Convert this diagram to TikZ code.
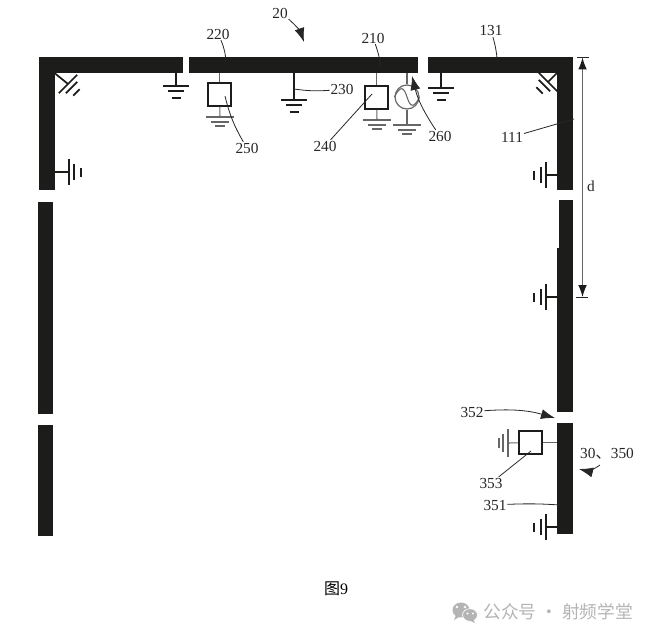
\documentclass[tikz,border=0pt]{standalone}
\usepackage{fontspec}
\setmainfont{Liberation Serif}
\newfontfamily\cjkfont{Noto Sans CJK SC}
\usetikzlibrary{arrows.meta}
\def\px{0.75pt}
\definecolor{barblack}{HTML}{1C1C1A}
\definecolor{markgray}{HTML}{B4B4B4}
\tikzset{
    gnd thick/.pic={\draw[stem] (-13,0) -- (13,0) (-8,5) -- (8,5) (-4.5,12) -- (4.5,12);},
    gnd thin/.pic={\draw[thinstem] (-14,0) -- (14,0) (-9,5) -- (9,5) (-5,9) -- (5,9);},
    stem/.style={draw=barblack, line width=1.3pt},
    thinstem/.style={draw=black!60, line width=0.8pt},
    bar/.style={fill=barblack, inner sep=0pt, outer sep=0pt},
    loadbox/.style={rectangle, draw=barblack, line width=1.25pt, inner sep=0pt, minimum size=23*\px},
    lab/.style={inner sep=0.5pt, font=\fontsize{11.5}{11.5}\selectfont, text=black!85},
    leader/.style={draw=black!85, line width=0.6pt},
    callout/.style={leader, -{Latex[length=10.5pt,width=7.5pt]}}
}
\begin{document}
\begin{tikzpicture}[x=\px, y=-\px]
    \useasboundingbox (0,0) rectangle (655,638);

    % Left side
    \node (barLeftA) [bar, minimum width=16*\px, minimum height=133*\px] at (46.5,123.5) {};
    \node (barLeftB) [bar, minimum width=15*\px, minimum height=212*\px] at (45.5,308) {};
    \node (barLeftC) [bar, minimum width=15*\px, minimum height=111*\px] at (45.5,480.5) {};

    % Top side
    \node (barTopA) [bar, minimum width=133*\px, minimum height=16*\px] at (116.5,65) {};
    \node (bar220) [bar, minimum width=229*\px, minimum height=16*\px] at (303.5,65) {};
    \node (bar131) [bar, minimum width=133*\px, minimum height=16*\px] at (494,65) {};

    % Right side
    \node (bar111) [bar, minimum width=16*\px, minimum height=133*\px] at (565,123.5) {};
    \node (barRightA) [bar, minimum width=14*\px, minimum height=50*\px] at (566,225) {};
    \node (barRightB) [bar, minimum width=16*\px, minimum height=164*\px] at (565,330) {};
    \node (bar351) [bar, minimum width=16*\px, minimum height=111*\px] at (565,478.5) {};

    % Loads and source on the top bar
    \node (load250) [loadbox] at (219.5,94.5) {};
    \node (load240) [loadbox] at (376.5,97.5) {};
    \node (source260) [circle, draw=black!60, line width=0.9pt, inner sep=0pt, minimum size=24*\px] at (407,97) {};
    \node (load353) [loadbox] at (530.5,442.5) {};
    \draw[thinstem] (source260.west) .. controls (401,84) and (404,88) .. (source260.center) .. controls (410,106) and (413,110) .. (source260.east);

    % Ground points
    \coordinate (gndTop) at (176,86);
    \coordinate (gnd230) at (294,100);
    \coordinate (gndTopR) at (441,88);
    \coordinate (gndLeft) at (69,172);
    \coordinate (gndRightA) at (546,175);
    \coordinate (gndRightB) at (546,297);
    \coordinate (gndRightC) at (546,527);
    \coordinate (gndCornerL) at (68,84);
    \coordinate (gndCornerR) at (548,82);
    \coordinate (gnd250) at (220,117);
    \coordinate (gnd240) at (377,120);
    \coordinate (gnd260) at (407,125);
    \coordinate (gnd353) at (508,443);

    % Stems
    \draw[stem] (barTopA.south -| gndTop) -- (gndTop);
    \draw[stem] (bar220.south -| gnd230) -- (gnd230);
    \draw[stem] (bar131.south -| gndTopR) -- (gndTopR);
    \draw[stem] (barLeftA.east |- gndLeft) -- (gndLeft);
    \draw[stem] (bar111.west |- gndRightA) -- (gndRightA);
    \draw[stem] (barRightB.west |- gndRightB) -- (gndRightB);
    \draw[stem] (bar351.west |- gndRightC) -- (gndRightC);
    \draw[stem] (barTopA.south -| barLeftA.east) -- (gndCornerL);
    \draw[stem] (bar131.south -| bar111.west) -- (gndCornerR);
    \draw[thinstem] (bar220.south -| load250) -- (load250);
    \draw[thinstem] (load250) -- (gnd250);
    \draw[thinstem] (bar220.south -| load240) -- (load240);
    \draw[thinstem] (load240) -- (gnd240);
    \draw[thinstem] (bar220.south -| source260) -- (source260);
    \draw[thinstem] (source260) -- (gnd260);
    \draw[thinstem] (load353) -- (bar351.west |- load353);
    \draw[thinstem] (load353) -- (gnd353);

    % Ground symbols
    \pic at (gndTop) {gnd thick};
    \pic at (gnd230) {gnd thick};
    \pic at (gndTopR) {gnd thick};
    \pic[rotate=90] at (gndLeft) {gnd thick};
    \pic[rotate=-90] at (gndRightA) {gnd thick};
    \pic[rotate=-90] at (gndRightB) {gnd thick};
    \pic[rotate=-90] at (gndRightC) {gnd thick};
    \pic[rotate=45] at (gndCornerL) {gnd thick};
    \pic[rotate=-45] at (gndCornerR) {gnd thick};
    \pic at (gnd250) {gnd thin};
    \pic at (gnd240) {gnd thin};
    \pic at (gnd260) {gnd thin};
    \pic[rotate=-90] at (gnd353) {gnd thin};

    % Reference numerals
    \node (lab20) [lab] at (280,13) {20};
    \node (lab220) [lab] at (218,34) {220};
    \node (lab210) [lab] at (373,38) {210};
    \node (lab230) [lab] at (342,89) {230};
    \node (lab250) [lab] at (247,148) {250};
    \node (lab240) [lab] at (325,146) {240};
    \node (lab260) [lab] at (440,136) {260};
    \node (lab131) [lab] at (491,31) {131};
    \node (lab111) [lab] at (512,137) {111};
    \node (labD) [lab] at (591,186) {d};
    \node (lab352) [lab] at (472,412) {352};
    \node (lab353) [lab] at (491,483) {353};
    \node (lab351) [lab] at (495,505) {351};
    \node (lab350) [lab] at (607,454) {30{\cjkfont 、}350};

    % Ends of the leaders
    \coordinate (end20) at (304,42);
    \coordinate (end220) at (226,63);
    \coordinate (end210) at (381,67);
    \coordinate (end250) at (225,96);
    \coordinate (end240) at (372,94);
    \coordinate (end260) at (412,76);
    \coordinate (end131) at (497,58);
    \coordinate (end111) at (574,119);
    \coordinate (end352) at (555,418);
    \coordinate (end353) at (531,451);
    \coordinate (end351) at (560,505);
    \coordinate (start350) at (600,465);
    \coordinate (end350) at (579,469);

    \draw[callout] (lab20) to[bend left=15] (end20);
    \draw[leader] (lab220) to[bend left=10] (end220);
    \draw[leader] (lab210) to[bend left=5] (end210);
    \draw[leader] (lab230) to[bend left=6] (gnd230 |- lab230);
    \draw[leader] (lab250) to[bend left=8] (end250);
    \draw[leader] (lab240) -- (end240);
    \draw[callout] (lab260) to[bend left=10] (end260);
    \draw[leader] (lab131) to[bend left=5] (end131);
    \draw[leader] (lab111) -- (end111);
    \draw[callout] (lab352) to[bend left=10] (end352);
    \draw[leader] (lab353) -- (end353);
    \draw[leader] (lab351) to[bend left=3] (end351);
    \draw[callout] (start350) to[bend left=25] (end350);

    % Height d
    \coordinate (dimTopL) at (577,57.5);
    \coordinate (dimTopR) at (589,57.5);
    \coordinate (dimBotL) at (576,297);
    \coordinate (dimBotR) at (588,297);
    \coordinate (dimTop) at (582.5,57.5);
    \coordinate (dimBot) at (582.5,297);
    \draw[leader] (dimTopL) -- (dimTopR);
    \draw[leader] (dimBotL) -- (dimBotR);
    \draw[draw=black!60, line width=0.8pt, {Latex[length=9pt,width=6.5pt,color=barblack]}-{Latex[length=9pt,width=6.5pt,color=barblack]}] (dimTop) -- (dimBot);

    % Caption and mark
    \node (caption) [inner sep=0pt, font=\fontsize{12}{12}\selectfont] at (336,589) {{\cjkfont 图}9};
    \fill[markgray] (461,610) ellipse [x radius=8.5, y radius=7.5];
    \fill[markgray] (456,615) -- (454,620) -- (461,616) -- cycle;
    \fill[white] (457,607) circle (1.3) (465,607) circle (1.3);
    \filldraw[fill=markgray, draw=white, line width=0.5pt] (470,615) ellipse [x radius=7.5, y radius=6.3];
    \fill[markgray] (473,619) -- (475,623) -- (469,620) -- cycle;
    \fill[white] (467.5,613.5) circle (1.1) (473,613.5) circle (1.1);
    \node (mark) [inner sep=0pt, anchor=west, text=markgray, font=\cjkfont\fontsize{13.3}{13.3}\selectfont] at (483,611.5) {公众号 · 射频学堂};
\end{tikzpicture}
\end{document}
